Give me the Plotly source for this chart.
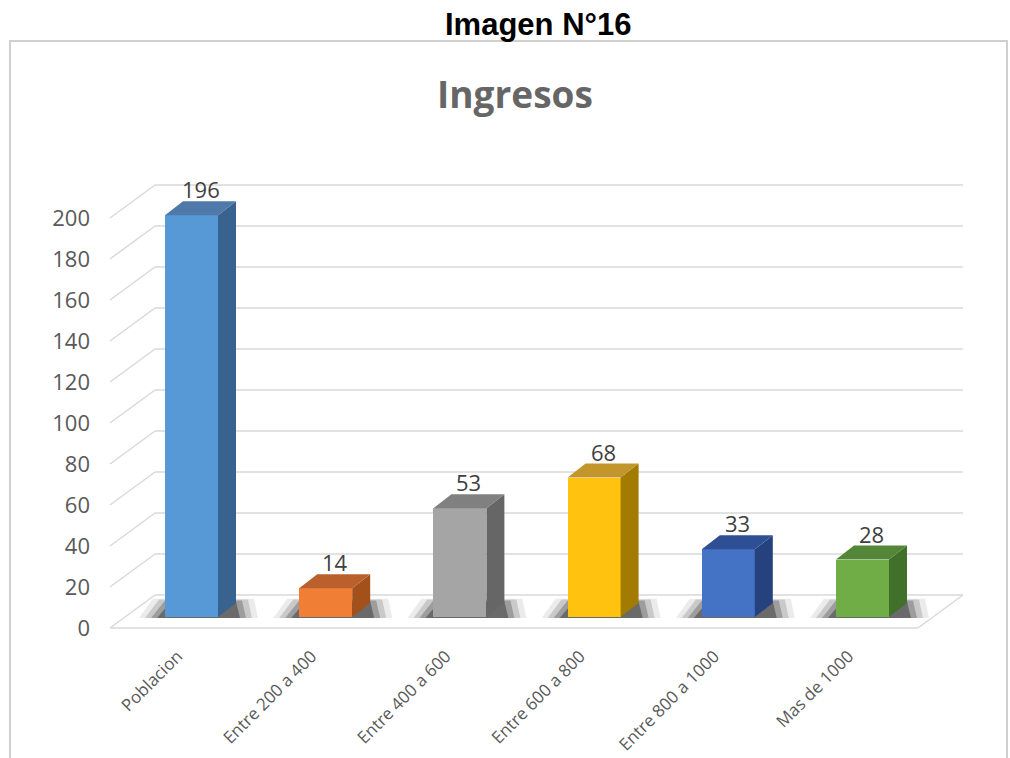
import plotly.graph_objects as go

categories = ["Poblacion", "Entre 200 a 400", "Entre 400 a 600", "Entre 600 a 800", "Entre 800 a 1000", "Mas de 1000"]
values = [196, 14, 53, 68, 33, 28]
tick_vals = [0, 20, 40, 60, 80, 100, 120, 140, 160, 180, 200]
front_colors = ["#5799D6", "#F07F35", "#A5A5A5", "#FFC20E", "#4472C4", "#70AD47"]
side_colors = ["#39628F", "#A4501A", "#666666", "#A27B00", "#25427E", "#41702A"]
top_colors = ["#4E79A8", "#B9602C", "#808080", "#C3962B", "#2F4F95", "#538636"]

W, H = 1010, 758
K = 2.05            # pixels per unit on the value axis
PX_CAT = 134.2      # pixels per category
X0 = 191.5          # pixel centre of first bar front face
Z_BAR, Z_LAB, Z_BACK = 617, 628, 595   # pixel row of zero for bars / labels / back wall
BAR_W = 53 / PX_CAT
DX = 18 / PX_CAT
DY = 14 / K
GRID = "#d9d9d9"

def py(p):
    return 1 - p / H

def px(p):
    return p / W

fig = go.Figure()
shapes = []

# floor shadows (data coordinates, drawn below traces)
for i, v in enumerate(values):
    xl = i - BAR_W / 2
    xr = i + BAR_W / 2
    for grow, op in [(22, 0.08), (16, 0.14), (10, 0.22), (4, 0.32)]:
        gl = (grow + 4) / PX_CAT
        gr = grow / PX_CAT
        y0 = -1.0 / K
        y1 = (15 + grow * 0.15) / K
        path = (f"M {xl - gl},{y0} L {xr + DX + gr},{y0} "
                f"L {xr + DX + gr - 4 / PX_CAT},{y1} L {xl - gl + 14 / PX_CAT},{y1} Z")
        shapes.append(dict(type="path", xref="x", yref="y", path=path,
                           fillcolor=f"rgba(0,0,0,{op})", line=dict(width=0), layer="below"))

fig.add_trace(go.Bar(
    x=list(range(len(categories))), y=values, width=BAR_W,
    marker=dict(color=front_colors, line=dict(width=0)),
    hovertext=categories, showlegend=False))

for i, v in enumerate(values):
    xl = i - BAR_W / 2
    xr = i + BAR_W / 2
    fig.add_trace(go.Scatter(
        x=[xr, xr, xr + DX, xr + DX, xr], y=[0, v, v + DY, DY, 0],
        fill="toself", fillcolor=side_colors[i], mode="none",
        hoverinfo="skip", showlegend=False))
    fig.add_trace(go.Scatter(
        x=[xl, xr, xr + DX, xl + DX, xl], y=[v, v, v + DY, v + DY, v],
        fill="toself", fillcolor=top_colors[i], mode="none",
        hoverinfo="skip", showlegend=False))
    fig.add_annotation(x=i + DX / 2, y=v, yshift=26, text=str(v), showarrow=False,
                       yanchor="middle",
                       font=dict(family="Open Sans", size=22, color="#404040"),
                       xref="x", yref="y")

# wall gridlines, left diagonals, floor
for v in tick_vals:
    yb = Z_BACK - v * K
    yf = Z_LAB - v * K
    shapes.append(dict(type="line", xref="paper", yref="paper",
                       x0=px(155), x1=px(963), y0=py(yb), y1=py(yb),
                       line=dict(color=GRID, width=1.5), layer="below"))
    shapes.append(dict(type="line", xref="paper", yref="paper",
                       x0=px(110), x1=px(155), y0=py(yf), y1=py(yb),
                       line=dict(color=GRID, width=1.5), layer="below"))
shapes.append(dict(type="line", xref="paper", yref="paper",
                   x0=px(110), x1=px(918), y0=py(Z_LAB), y1=py(Z_LAB),
                   line=dict(color=GRID, width=1.5), layer="below"))
shapes.append(dict(type="line", xref="paper", yref="paper",
                   x0=px(918), x1=px(963), y0=py(Z_LAB), y1=py(Z_BACK),
                   line=dict(color=GRID, width=1.5), layer="below"))
# chart frame
shapes.append(dict(type="rect", xref="paper", yref="paper",
                   x0=px(10), x1=px(1007), y0=py(775), y1=py(41),
                   line=dict(color="#d0d0d0", width=2), layer="below"))

fig.add_annotation(x=px(538), y=py(25), xref="paper", yref="paper", text="<b>Imagen N°16</b>",
                   showarrow=False, yanchor="middle",
                   font=dict(family="Liberation Sans", size=31, color="#000000"))
fig.add_annotation(x=px(515), y=py(93), xref="paper", yref="paper", text="<b>Ingresos</b>",
                   showarrow=False, yanchor="middle",
                   font=dict(family="Open Sans", size=37, color="#666666"))

fig.update_layout(
    width=W, height=H, margin=dict(l=0, r=0, t=0, b=0),
    paper_bgcolor="white", plot_bgcolor="rgba(0,0,0,0)",
    shapes=shapes, showlegend=False, bargap=0,
    xaxis=dict(domain=[0, 1], range=[-X0 / PX_CAT, (W - X0) / PX_CAT],
               tickmode="array", tickvals=list(range(len(categories))), ticktext=categories,
               tickangle=-45, showgrid=False, zeroline=False, showline=False,
               anchor="free", position=py(642), ticks="", ticklabelshift=-14,
               tickfont=dict(family="Open Sans", size=17, color="#595959")),
    yaxis=dict(domain=[0, 1], range=[-(H - Z_BAR) / K, Z_BAR / K],
               showgrid=False, zeroline=False, showticklabels=False, showline=False),
    yaxis2=dict(overlaying="y", anchor="free", position=px(90), side="left",
                range=[-(H - Z_LAB) / K, Z_LAB / K], tickmode="array", tickvals=tick_vals,
                showgrid=False, zeroline=False, showline=False, ticks="",
                tickfont=dict(family="Open Sans", size=22, color="#595959")),
)
# invisible trace to activate yaxis2
fig.add_trace(go.Scatter(x=[0], y=[0], yaxis="y2", mode="markers",
                         marker=dict(opacity=0), hoverinfo="skip", showlegend=False))

fig.write_html("out.html")
